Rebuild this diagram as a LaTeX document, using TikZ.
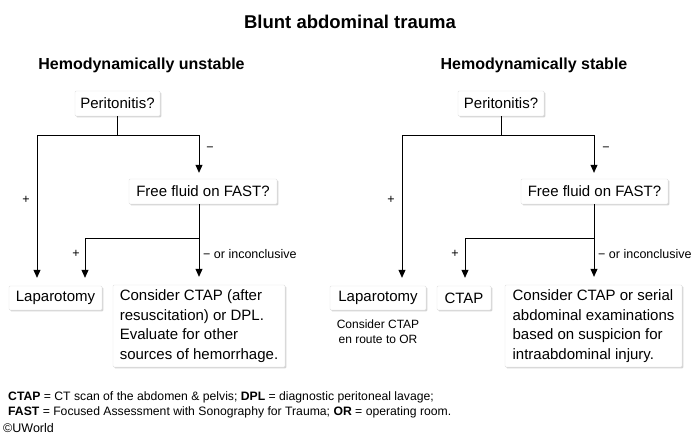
\documentclass[tikz,border=0pt]{standalone}
\usepackage{fontspec}
\setmainfont{Liberation Sans}
\usetikzlibrary{arrows.meta,shadows}
\tikzset{
  box/.style={draw=black!12, fill=white, rounded corners=1pt, inner sep=0pt,
    drop shadow={shadow xshift=1.3pt, shadow yshift=-1.3pt, opacity=0.35},
    font=\fontsize{15}{19.5}\selectfont},
  bigbox/.style={box, align=left, minimum height=82pt},
  ln/.style={line width=0.8pt},
  arr/.style={ln, -{Triangle[width=7pt,length=8pt]}, shorten >=8pt},
  lbl/.style={font=\fontsize{12.5}{15}\selectfont},
  head/.style={font=\bfseries\fontsize{16}{18}\selectfont},
}
\begin{document}
\begin{tikzpicture}[x=1pt,y=-1pt]
            % \clip (0,0) rectangle (700,437);
            \useasboundingbox (0,0) rectangle (700,437);

            % Marking title
            \node[font=\bfseries\fontsize{18.5}{22}\selectfont] (title) at (350,22) {Blunt abdominal trauma};

            % Marking headings
            \node[head] (headU) at (141.5,65) {Hemodynamically unstable};
            \node[head] (headS) at (534,65) {Hemodynamically stable};

            % Drawing boxes, unstable side
            \node[box, minimum width=85pt, minimum height=25pt] (perU) at (117.5,103.5) {Peritonitis?};
            \node[box, minimum width=148pt, minimum height=25pt] (fluidU) at (203,191.5) {Free fluid on FAST?};
            \node[box, minimum width=93pt, minimum height=24pt] (lapU) at (55.5,298) {Laparotomy};
            \node[bigbox, minimum width=172pt] (ctapU) at (199,326)
              {Consider CTAP (after\\resuscitation) or DPL.\\Evaluate for other\\sources of hemorrhage.};

            % Drawing boxes, stable side
            \node[box, minimum width=86pt, minimum height=25pt] (perS) at (501,103.5) {Peritonitis?};
            \node[box, minimum width=147pt, minimum height=25pt] (fluidS) at (594.5,191.5) {Free fluid on FAST?};
            \node[box, minimum width=96pt, minimum height=24pt] (lapS) at (378,298) {Laparotomy};
            \node[box, minimum width=54pt, minimum height=24pt] (ctapS) at (464,298) {CTAP};
            \node[bigbox, minimum width=177pt] (serialS) at (593.5,326)
              {Consider CTAP or serial\\abdominal examinations\\based on suspicion for\\intraabdominal injury.};
            \node[font=\fontsize{12}{15}\selectfont, align=center] (noteS) at (378,331.5) {Consider CTAP\\en route to OR};

            % Marking branch points
            \coordinate (lU) at (37,135);
            \coordinate (rU) at (199,135);
            \coordinate (aU) at (85,238);
            \coordinate (bU) at (199,238);
            \coordinate (lS) at (402,135);
            \coordinate (rS) at (594,135);
            \coordinate (aS) at (465,238);
            \coordinate (bS) at (594,238);

            % Drawing connectors, unstable side
            \draw[ln] (perU.south) -- (perU.south |- lU);
            \draw[arr] (perU.south |- lU) -- (lU) -- (lU |- lapU.north);
            \draw[arr, shorten >=6pt] (perU.south |- rU) -- (rU) -- (rU |- fluidU.north);
            \draw[ln] (fluidU.south -| bU) -- (bU);
            \draw[arr] (bU) -- (aU) -- (aU |- lapU.north);
            \draw[arr] (bU) -- (bU |- ctapU.north);

            % Drawing connectors, stable side
            \draw[ln] (perS.south) -- (perS.south |- lS);
            \draw[arr] (perS.south |- lS) -- (lS) -- (lS |- lapS.north);
            \draw[arr, shorten >=6pt] (perS.south |- rS) -- (rS) -- (rS |- fluidS.north);
            \draw[ln] (fluidS.south -| bS) -- (bS);
            \draw[arr] (bS) -- (aS) -- (aS |- ctapS.north);
            \draw[arr] (bS) -- (bS |- serialS.north);

            % Marking branch labels
            \node[lbl] (minusU) at (210,149) {−};
            \node[lbl] (plusU) at (26,200) {+};
            \node[lbl] (plusU2) at (76,254) {+};
            \node[lbl, anchor=west, inner sep=0pt] (incU) at (203,254) {− or inconclusive};
            \node[lbl] (minusS) at (606,149) {−};
            \node[lbl] (plusS) at (391,200) {+};
            \node[lbl] (plusS2) at (455,254) {+};
            \node[lbl, anchor=west, inner sep=0pt] (incS) at (598,254) {− or inconclusive};

            % Marking footnote
            \node[anchor=west, align=left, inner sep=0pt, font=\fontsize{12.2}{15}\selectfont] (foot) at (8,404.5)
              {\textbf{CTAP} = CT scan of the abdomen \& pelvis; \textbf{DPL} = diagnostic peritoneal lavage;\\
               \textbf{FAST} = Focused Assessment with Sonography for Trauma; \textbf{OR} = operating room.};
            \node[anchor=west, inner sep=0pt, font=\fontsize{12.5}{14}\selectfont] (copy) at (3,428) {©UWorld};
        \end{tikzpicture}
\end{document}
